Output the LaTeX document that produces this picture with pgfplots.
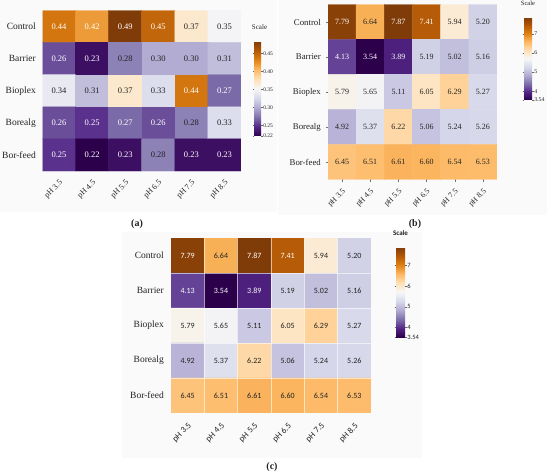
\documentclass[border=0pt]{standalone}
\usepackage{fontspec}
\setmainfont{Liberation Serif}
\newfontfamily\carlito{Carlito}
\usepackage{pgfplots}
\pgfplotsset{compat=1.18}
\usepackage{pgfplotstable}

\pgfplotsset{colormap={puor}{rgb255=(45,0,75) rgb255=(84,39,136) rgb255=(128,115,172) rgb255=(178,171,210) rgb255=(216,218,235) rgb255=(247,247,247) rgb255=(254,224,182) rgb255=(253,184,99) rgb255=(224,130,20) rgb255=(179,88,6) rgb255=(127,59,8)}}
\definecolor{dtext}{RGB}{35,35,35}

% (a) values
\pgfplotstableread{
x y v
0 0 0.44
1 0 0.42
2 0 0.49
3 0 0.45
4 0 0.37
5 0 0.35
0 1 0.26
1 1 0.23
2 1 0.28
3 1 0.30
4 1 0.30
5 1 0.31
0 2 0.34
1 2 0.31
2 2 0.37
3 2 0.33
4 2 0.44
5 2 0.27
0 3 0.26
1 3 0.25
2 3 0.27
3 3 0.26
4 3 0.28
5 3 0.33
0 4 0.25
1 4 0.22
2 4 0.23
3 4 0.28
4 4 0.23
5 4 0.23
}\tableA

% (b) and (c) values
\pgfplotstableread{
x y v
0 0 7.79
1 0 6.64
2 0 7.87
3 0 7.41
4 0 5.94
5 0 5.20
0 1 4.13
1 1 3.54
2 1 3.89
3 1 5.19
4 1 5.02
5 1 5.16
0 2 5.79
1 2 5.65
2 2 5.11
3 2 6.05
4 2 6.29
5 2 5.27
0 3 4.92
1 3 5.37
2 3 6.22
3 3 5.06
4 3 5.24
5 3 5.26
0 4 6.45
1 4 6.51
2 4 6.61
3 4 6.60
4 4 6.54
5 4 6.53
}\tableB

\pgfplotsset{
  heat/.style={
    scale only axis, enlargelimits=false,
    xmin=-0.5, xmax=5.5, ymin=-0.5, ymax=4.5, y dir=reverse,
    xtick={0,1,2,3,4,5}, ytick={0,1,2,3,4},
    xticklabels={pH 3.5,pH 4.5,pH 5.5,pH 6.5,pH 7.5,pH 8.5},
    yticklabels={Control,Barrier,Bioplex,Borealg,Bor-feed},
    axis line style={draw=none},
    colormap name=puor,
    tick label style={text=dtext},
    xticklabel style={rotate=45, anchor=north east, inner sep=0pt},
    yticklabel style={anchor=east, inner sep=0pt},
  },
  heatmap/.style={matrix plot*, mesh/cols=6, point meta=explicit},
  cellw/.style={only marks, mark=none, nodes near coords,
    point meta=explicit symbolic,
    every node near coord/.append style={anchor=center, inner sep=0pt,
      text=white, font=#1}},
  cellb/.style={only marks, mark=none, nodes near coords,
    point meta=explicit symbolic,
    every node near coord/.append style={anchor=center, inner sep=0pt,
      text=dtext, font=#1}},
}

\begin{document}
\begin{tikzpicture}
\useasboundingbox (0,0) rectangle (550pt,-476pt);
\fill[black!2] (0,0) rectangle (277pt,-212pt);
\fill[black!2] (278pt,0) rectangle (547pt,-215pt);
\fill[black!2] (122pt,-232pt) rectangle (422pt,-458pt);

% ---------------- (a)
\begin{axis}[heat,
  at={(42.5pt,-10.5pt)}, anchor=north west,
  width=198.5pt, height=160.5pt,
  major tick length=0pt, tick style={draw=none},
  xticklabel shift=8pt, yticklabel shift=6.5pt,
  xticklabel style={font=\fontsize{8}{9}\selectfont},
  yticklabel style={font=\fontsize{9.5}{11}\selectfont},
  point meta min=0.22, point meta max=0.485,
  colorbar,
  colorbar style={
    at={(parent axis.north east)}, anchor=north west,
    xshift=4.5pt, yshift=-30.5pt,
    scale only axis, width=7pt, height=95pt,
    axis line style={draw=none},
    ytick={0.22,0.25,0.30,0.35,0.40,0.45},
    yticklabels={0.22,0.25,0.30,0.35,0.40,0.45},
    yticklabel pos=right,
    tick align=outside, major tick length=1.5pt,
    ytick style={draw=black!60, line width=0.3pt},
    yticklabel style={font=\fontsize{5.5}{6}\selectfont, inner sep=0.6pt, text=dtext},
    title=Scale,
    title style={font=\fontsize{7}{8}\selectfont, yshift=2pt, xshift=2pt, text=dtext},
  },
]
\addplot[heatmap] table[x=x, y=y, meta=v] {\tableA};
\addplot[cellw={\fontsize{8.5}{9}\selectfont}] coordinates {
 (0,0)[0.44] (1,0)[0.42] (2,0)[0.49] (3,0)[0.45]
 (0,1)[0.26] (1,1)[0.23]
 (4,2)[0.44] (5,2)[0.27]
 (0,3)[0.26] (1,3)[0.25] (2,3)[0.27] (3,3)[0.26]
 (0,4)[0.25] (1,4)[0.22] (2,4)[0.23] (4,4)[0.23] (5,4)[0.23]};
\addplot[cellb={\fontsize{8.5}{9}\selectfont}] coordinates {
 (4,0)[0.37] (5,0)[0.35]
 (2,1)[0.28] (3,1)[0.30] (4,1)[0.30] (5,1)[0.31]
 (0,2)[0.34] (1,2)[0.31] (2,2)[0.37] (3,2)[0.33]
 (4,3)[0.28] (5,3)[0.33]
 (3,4)[0.28]};
\end{axis}

% ---------------- (b)
\begin{axis}[heat,
  at={(328pt,-4.5pt)}, anchor=north west,
  width=169pt, height=175pt,
  tick pos=left, tick align=outside, major tick length=2.5pt,
  tick style={draw=black!55, line width=0.4pt},
  xticklabel shift=6pt, yticklabel shift=4.5pt,
  xticklabel style={font=\fontsize{7.8}{9}\selectfont},
  yticklabel style={font=\fontsize{8.8}{10}\selectfont},
  point meta min=3.54, point meta max=7.87,
  colorbar,
  colorbar style={
    at={(parent axis.north east)}, anchor=north west,
    xshift=18.5pt, yshift=-12.5pt,
    scale only axis, width=8pt, height=83pt,
    axis line style={draw=none},
    ytick={3.54,4,5,6,7},
    yticklabels={3.54,4,5,6,7},
    yticklabel pos=right,
    tick align=outside, major tick length=1.5pt,
    ytick style={draw=black!60, line width=0.3pt},
    yticklabel style={font=\fontsize{5.8}{6}\selectfont, inner sep=0.6pt, text=dtext},
    title=Scale,
    title style={font=\fontsize{6.5}{7}\selectfont, yshift=1.5pt, text=dtext},
  },
]
\addplot[heatmap] table[x=x, y=y, meta=v] {\tableB};
\addplot[cellw={\fontsize{8}{9}\selectfont}] coordinates {
 (0,0)[7.79] (2,0)[7.87] (3,0)[7.41]
 (0,1)[4.13] (1,1)[3.54] (2,1)[3.89]};
\addplot[cellb={\fontsize{8}{9}\selectfont}] coordinates {
 (1,0)[6.64] (4,0)[5.94] (5,0)[5.20]
 (3,1)[5.19] (4,1)[5.02] (5,1)[5.16]
 (0,2)[5.79] (1,2)[5.65] (2,2)[5.11] (3,2)[6.05] (4,2)[6.29] (5,2)[5.27]
 (0,3)[4.92] (1,3)[5.37] (2,3)[6.22] (3,3)[5.06] (4,3)[5.24] (5,3)[5.26]
 (0,4)[6.45] (1,4)[6.51] (2,4)[6.61] (3,4)[6.60] (4,4)[6.54] (5,4)[6.53]};
\end{axis}

% ---------------- (c)
\begin{axis}[heat,
  at={(171pt,-238pt)}, anchor=north west,
  width=200pt, height=175pt,
  major tick length=0pt, tick style={draw=none},
  minor xtick={0.5,1.5,2.5,3.5,4.5}, minor ytick={0.5,1.5,2.5,3.5},
  minor tick length=0pt,
  xminorgrids=true, yminorgrids=true,
  minor grid style={draw=white, draw opacity=0.6, line width=0.7pt},
  axis on top,
  xticklabel shift=9pt, yticklabel shift=7pt,
  xticklabel style={font=\carlito\fontsize{8.6}{10}\selectfont},
  yticklabel style={font=\fontsize{9.5}{11}\selectfont},
  point meta min=3.54, point meta max=7.87,
  colorbar,
  colorbar style={
    at={(parent axis.north east)}, anchor=north west,
    xshift=16.5pt, yshift=-9pt,
    scale only axis, width=9pt, height=90pt,
    axis line style={draw=none},
    ytick={3.54,4,5,6,7},
    yticklabels={3.54,4,5,6,7},
    yticklabel pos=right,
    tick align=outside, major tick length=1.5pt,
    ytick style={draw=black!60, line width=0.3pt},
    yticklabel style={font=\carlito\fontsize{6.5}{7}\selectfont, inner sep=0.6pt, text=dtext},
    title={\bfseries Scale},
    title style={font=\carlito\fontsize{7}{8}\selectfont, yshift=1.5pt, text=dtext},
  },
]
\addplot[heatmap] table[x=x, y=y, meta=v] {\tableB};
\addplot[cellw={\carlito\fontsize{8}{9}\selectfont}] coordinates {
 (0,0)[7.79] (2,0)[7.87] (3,0)[7.41]
 (0,1)[4.13] (1,1)[3.54] (2,1)[3.89]};
\addplot[cellb={\carlito\fontsize{8}{9}\selectfont}] coordinates {
 (1,0)[6.64] (4,0)[5.94] (5,0)[5.20]
 (3,1)[5.19] (4,1)[5.02] (5,1)[5.16]
 (0,2)[5.79] (1,2)[5.65] (2,2)[5.11] (3,2)[6.05] (4,2)[6.29] (5,2)[5.27]
 (0,3)[4.92] (1,3)[5.37] (2,3)[6.22] (3,3)[5.06] (4,3)[5.24] (5,3)[5.26]
 (0,4)[6.45] (1,4)[6.51] (2,4)[6.61] (3,4)[6.60] (4,4)[6.54] (5,4)[6.53]};
\end{axis}

\node[font=\bfseries\fontsize{10}{12}\selectfont, text=dtext] at (137pt,-224pt) {(a)};
\node[font=\bfseries\fontsize{10}{12}\selectfont, text=dtext] at (415pt,-224pt) {(b)};
\node[font=\bfseries\fontsize{10}{12}\selectfont, text=dtext] at (272pt,-467pt) {(c)};
\end{tikzpicture}
\end{document}
